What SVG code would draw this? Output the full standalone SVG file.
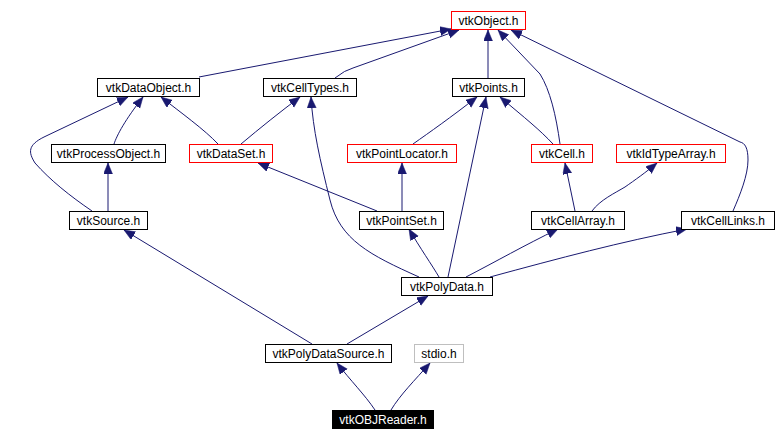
<svg xmlns="http://www.w3.org/2000/svg" width="778" height="442" viewBox="0 0 778 442">
<style>
.n rect{fill:#fff;stroke:#000;stroke-width:1}
.n.r rect{stroke:#ff0000}
.n.g rect{stroke:#bfbfbf}
.n.b rect{fill:#000;stroke:#000}
.n text{font-family:"Liberation Sans",Arial,sans-serif;font-size:12px;text-anchor:middle;fill:#000}
.n.b text{fill:#fff}
#edges path{fill:none;stroke:#191970;stroke-width:1;marker-end:url(#ah)}
</style>
<defs>
<marker id="ah" markerUnits="userSpaceOnUse" markerWidth="12" markerHeight="10" refX="11" refY="4.5" orient="auto">
<path d="M0,0 L11,4.5 L0,9 z" fill="#191970" stroke="#191970" stroke-width="0.5"/>
</marker>
</defs>
<rect width="778" height="442" fill="#fff"/>
<g id="edges">
<path d="M199,77 L451,29"/>
<path d="M335,78 Q345,70 353,68 L459,30"/>
<path d="M488,78 L488,30"/>
<path d="M560,144 C556,115 550,90 540,74 L498,30"/>
<path d="M733,211 C740,195 748,175 748,160 C748,148 745,143 740,142 L511,30"/>
<path d="M114,144 C117,135 125,120 143,97"/>
<path d="M92,211 C70,196 50,180 35,163 C28,152 28,145 44,137 L128,97"/>
<path d="M218,144 C205,130 180,112 161,97"/>
<path d="M241,144 C260,128 280,112 300,97"/>
<path d="M413,144 C430,132 450,118 477,97"/>
<path d="M553,144 C540,130 525,118 500,97"/>
<path d="M448,277 L486,97"/>
<path d="M419,277 C370,255 340,240 330,200 C320,160 313,130 311,97"/>
<path d="M108,211 L108,163"/>
<path d="M377,211 L258,163"/>
<path d="M402,211 L402,163"/>
<path d="M575,211 L565,163"/>
<path d="M592,211 C600,200 615,193 625,187 C635,180 645,173 657,163"/>
<path d="M439,277 C432,265 420,248 409,229"/>
<path d="M466,277 C495,262 525,245 558,229"/>
<path d="M490,277 C560,258 620,242 687,229"/>
<path d="M312,344 L124,230"/>
<path d="M347,344 L428,296"/>
<path d="M375,410 C365,395 350,380 337,363"/>
<path d="M391,410 C400,395 415,380 430,363"/>
</g>
<g id="vtkObject" class="n r"><rect x="451.5" y="11.5" width="74" height="18"/><text x="488.5" y="25">vtkObject.h</text></g>
<g id="vtkDataObject" class="n"><rect x="97.5" y="78.5" width="102" height="18"/><text x="148.5" y="92">vtkDataObject.h</text></g>
<g id="vtkCellTypes" class="n"><rect x="263.5" y="78.5" width="93" height="18"/><text x="310" y="92">vtkCellTypes.h</text></g>
<g id="vtkPoints" class="n"><rect x="452.5" y="78.5" width="72" height="18"/><text x="488.5" y="92">vtkPoints.h</text></g>
<g id="vtkProcessObject" class="n"><rect x="51.5" y="144.5" width="114" height="18"/><text x="108.5" y="158">vtkProcessObject.h</text></g>
<g id="vtkDataSet" class="n r"><rect x="189.5" y="144.5" width="83" height="18"/><text x="231" y="158">vtkDataSet.h</text></g>
<g id="vtkPointLocator" class="n r"><rect x="347.5" y="144.5" width="109" height="18"/><text x="402" y="158">vtkPointLocator.h</text></g>
<g id="vtkCell" class="n r"><rect x="531.5" y="144.5" width="61" height="18"/><text x="562" y="158">vtkCell.h</text></g>
<g id="vtkIdTypeArray" class="n r"><rect x="616.5" y="144.5" width="109" height="18"/><text x="671" y="158">vtkIdTypeArray.h</text></g>
<g id="vtkSource" class="n"><rect x="69.5" y="211.5" width="78" height="18"/><text x="108.5" y="225">vtkSource.h</text></g>
<g id="vtkPointSet" class="n"><rect x="359.5" y="211.5" width="84" height="18"/><text x="401.5" y="225">vtkPointSet.h</text></g>
<g id="vtkCellArray" class="n"><rect x="531.5" y="211.5" width="93" height="18"/><text x="578" y="225">vtkCellArray.h</text></g>
<g id="vtkCellLinks" class="n"><rect x="681.5" y="211.5" width="93" height="18"/><text x="728" y="225">vtkCellLinks.h</text></g>
<g id="vtkPolyData" class="n"><rect x="401.5" y="277.5" width="91" height="18"/><text x="447" y="291">vtkPolyData.h</text></g>
<g id="vtkPolyDataSource" class="n"><rect x="265.5" y="344.5" width="126" height="18"/><text x="328.5" y="358">vtkPolyDataSource.h</text></g>
<g id="stdio" class="n g"><rect x="414.5" y="344.5" width="49" height="18"/><text x="439" y="358">stdio.h</text></g>
<g id="vtkOBJReader" class="n b"><rect x="332.5" y="410.5" width="101" height="18"/><text x="383" y="424">vtkOBJReader.h</text></g>
</svg>
